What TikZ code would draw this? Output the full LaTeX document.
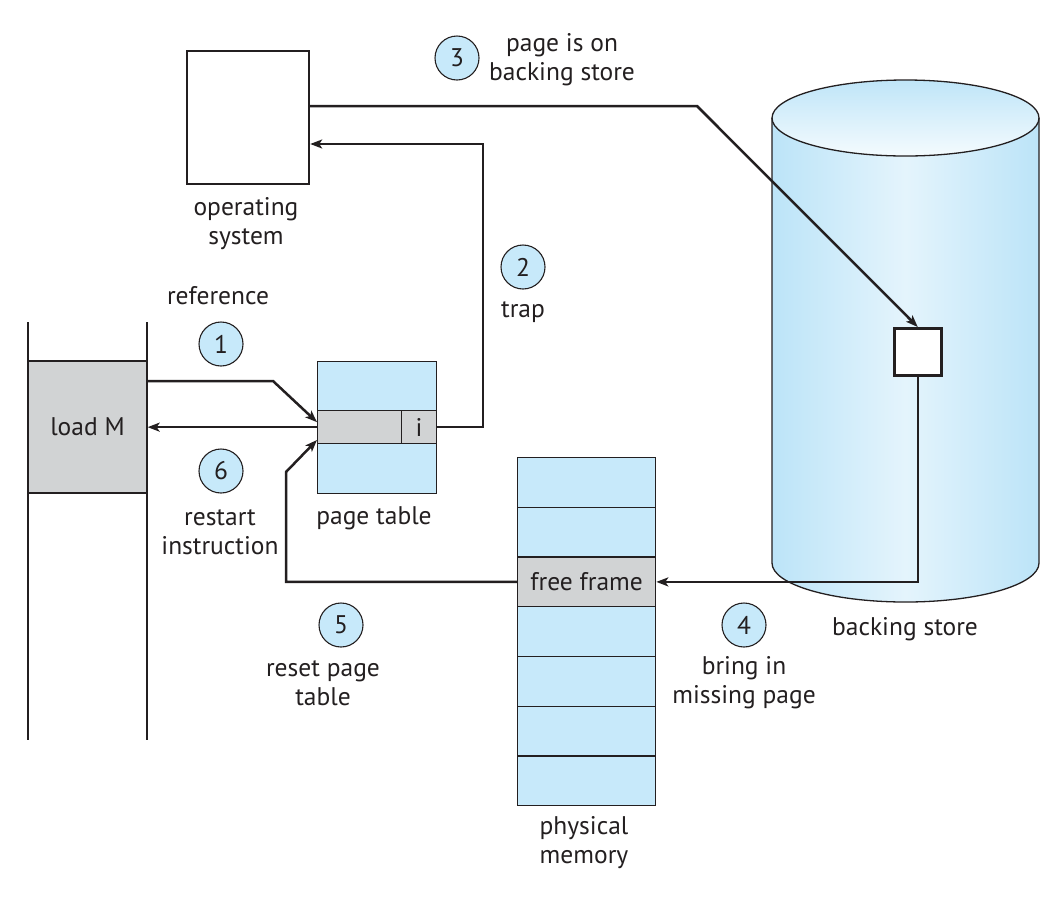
\documentclass[tikz,border=0pt]{standalone}
\usepackage{fontspec}
\setmainfont{PT Sans}
\usetikzlibrary{arrows.meta,calc}
\definecolor{lblue}{HTML}{C7E9FA}
\definecolor{lgray}{HTML}{D1D3D4}
\definecolor{ink}{HTML}{231F20}
\definecolor{cylside}{HTML}{BCE4F8}
\definecolor{cylmid}{HTML}{E4F4FC}
\definecolor{cyltop}{HTML}{BFE5F8}
\definecolor{cyltopb}{HTML}{F4FBFE}
\begin{document}
\begin{tikzpicture}[x=1pt,y=-1pt,
  every node/.style={text=ink},
  lbl/.style={font=\fontsize{25.5}{29}\selectfont, align=center, inner sep=0pt},
  cell/.style={draw=ink, line width=1.3pt, inner sep=0pt, font=\fontsize{25.5}{29}\selectfont},
  num/.style={circle, draw=ink, fill=lblue, line width=1.1pt, minimum size=44pt, inner sep=0pt, font=\fontsize{25.5}{29}\selectfont},
  conn/.style={draw=ink, line width=2.5pt, -{Stealth[length=12pt,width=9pt,inset=3pt]}}
]
\useasboundingbox (0,0) rectangle (1064,903);

% ---- backing store cylinder ----
\shade[left color=cylside, right color=cylside, middle color=cylmid]
  (772,118) -- (772,563) arc[start angle=180, end angle=360, x radius=133.5pt, y radius=39pt] -- (1039,118) -- cycle;
\shade[top color=cyltop, bottom color=cyltopb]
  (905.5,118) ellipse[x radius=133.5pt, y radius=38pt];
\draw[ink, line width=1.3pt]
  (772,118) -- (772,563) arc[start angle=180, end angle=360, x radius=133.5pt, y radius=39pt] -- (1039,118);
\draw[ink, line width=1.3pt] (905.5,118) ellipse[x radius=133.5pt, y radius=38pt];
\node[lbl] (bslabel) at (905,629) {backing store};

% ---- program ----
\draw[ink, line width=1.3pt] (28,322) -- (28,740);
\draw[ink, line width=1.3pt] (147,322) -- (147,740);
\node[cell, fill=lgray, minimum width=119pt, minimum height=132pt] (loadm) at (87.5,427) {load M};

% ---- page table ----
\node[cell, fill=lblue, minimum width=119pt, minimum height=49pt, anchor=north west] (ptop) at (317,361) {};
\node[cell, fill=lgray, minimum width=84pt, minimum height=33pt, anchor=north west] (prow) at (317,410) {};
\node[cell, fill=lgray, minimum width=35pt, minimum height=33pt, anchor=north west] (pi) at (401,410) {i};
\node[cell, fill=lblue, minimum width=119pt, minimum height=50pt, anchor=north west] (pbot) at (317,443) {};
\node[lbl] (ptlabel) at (374,518) {page table};

% ---- operating system ----
\node[draw=ink, line width=2.2pt, fill=white, minimum width=122pt, minimum height=133pt, anchor=north west, inner sep=0pt] (os) at (186,50) {};
\node[lbl] (oslabel) at (246,224) {operating\\system};

% ---- physical memory ----
\foreach \k in {1,...,7} {
  \pgfmathsetmacro{\yy}{457+(\k-1)*49.7}
  \ifnum\k=3
    \node[cell, fill=lgray, minimum width=138pt, minimum height=49.7pt, anchor=north west] (pm\k) at (517,\yy) {free frame};
  \else
    \node[cell, fill=lblue, minimum width=138pt, minimum height=49.7pt, anchor=north west] (pm\k) at (517,\yy) {};
  \fi
}
\node[lbl] (pmlabel) at (584,843) {physical\\memory};

% ---- page on backing store ----
\node[draw=ink, line width=2.5pt, fill=white, minimum width=47pt, minimum height=47pt, anchor=north west, inner sep=0pt] (sb) at (893,327) {};

% ---- step numbers and labels ----
\node[num] (n1) at (221,344) {1};
\node[num] (n2) at (523,267) {2};
\node[num] (n3) at (457,58) {3};
\node[num] (n4) at (744,625) {4};
\node[num] (n5) at (341,625) {5};
\node[num] (n6) at (221,471) {6};
\node[lbl] (l1) at (218,296) {reference};
\node[lbl] (l2) at (523,312) {trap};
\node[lbl] (l3) at (562,60) {page is on\\backing store};
\node[lbl] (l4) at (744,683) {bring in\\missing page};
\node[lbl] (l5) at (323,683) {reset page\\table};
\node[lbl] (l6) at (220,532) {restart\\instruction};

% ---- connectors ----
\coordinate (b1) at (273,381);
\draw[conn] (loadm.east |- b1) -- (b1) -- ($(prow.west)+(0,-5)$);
\draw[conn] (prow.west) -- (prow.west -| loadm.east);
\coordinate (t2) at (483,144);
\draw[conn] (pi.east) -| (t2) -- (t2 -| os.east);
\coordinate (t3) at (697,106);
\draw[conn] (t3 -| os.east) -- (t3) -- (sb.north);
\draw[conn] (sb.south) |- (pm3.east);
\coordinate (c5) at (286,472);
\draw[conn] (pm3.west) -| (c5) -- ($(pbot.north west)+(0,-3)$);
\end{tikzpicture}
\end{document}
